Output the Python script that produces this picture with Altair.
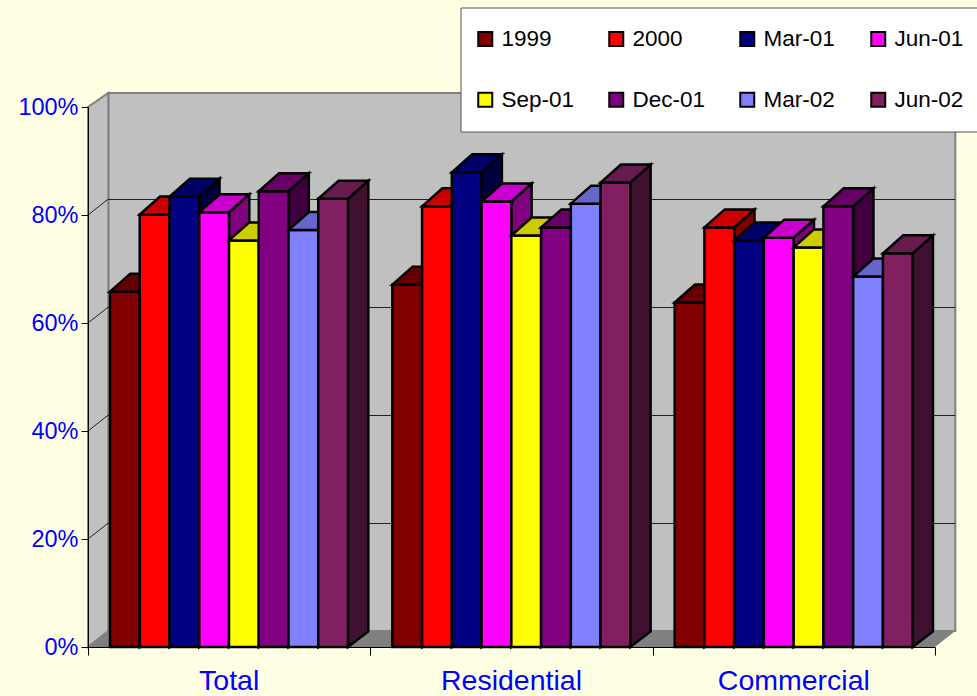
import altair as alt
import pandas as pd

FONT = "Liberation Sans"
BLUE = "#0000FF"
PAPER = "#FFFFE4"

categories = ["Total", "Residential", "Commercial"]
series = ["1999", "2000", "Mar-01", "Jun-01", "Sep-01", "Dec-01", "Mar-02", "Jun-02"]
total = [65.8, 80.1, 83.4, 80.5, 75.3, 84.4, 77.2, 83.0]
residential = [67.1, 81.6, 87.9, 82.5, 76.2, 77.7, 82.1, 86.0]
commercial = [63.8, 77.7, 75.3, 75.8, 74.0, 81.6, 68.6, 72.9]
front_colours = ["#800000", "#FF0000", "#000080", "#FF00FF", "#FFFF00", "#800080", "#8080FF", "#802060"]
top_colours = ["#660000", "#CC0000", "#000066", "#CC00CC", "#CCCC00", "#660066", "#6666CC", "#661A4D"]
side_colours = ["#400000", "#800000", "#000040", "#800080", "#808000", "#400040", "#404080", "#401030"]

PLOT_W, PLOT_H = 847, 540
PX_X = PLOT_W / len(categories)   # pixels per category unit
PX_Y = PLOT_H / 100               # pixels per percentage point

# Oblique projection of the box, in data units
DX = 20.3 / PX_X
DY_WALL = 16 / PX_Y
DY_GRID = 15.5 / PX_Y
WALL_TOP = 100 + 14 / PX_Y
BAR_DX = 20.3 / PX_X
BAR_DY_TOP = 18 / PX_Y
BAR_DY_BASE = 15.5 / PX_Y
BAR_W = 29.75 / PX_X
GROUP_GAP = 22 / PX_X

x_scale = alt.Scale(domain=[0, len(categories)], nice=False, zero=False)
y_scale = alt.Scale(domain=[0, 100], nice=False, zero=False)
x_axis = alt.Axis(values=list(range(len(categories) + 1)), labels=False, title=None, grid=False,
                  tickSize=8, tickColor="black", domainColor="black", zindex=1)
y_axis = alt.Axis(values=[0, 20, 40, 60, 80, 100], title=None, grid=False, tickSize=7,
                  labelExpr="datum.value + '%'", labelFont=FONT, labelFontSize=23.5,
                  labelColor=BLUE, labelPadding=3, tickColor="black", domainColor="black", zindex=1)

X = alt.X("x:Q", scale=x_scale, axis=x_axis)
Y = alt.Y("y:Q", scale=y_scale, axis=y_axis, stack=None)
Y2 = alt.Y2("y2:Q")


def quad(face, key, x0, x1, low0, high0, low1, high1):
    """A single-span area face: (low, high) at both ends of x0..x1."""
    return [
        {"face": face, "key": key, "x": x0, "y": high0, "y2": low0},
        {"face": face, "key": key, "x": x1, "y": high1, "y2": low1},
    ]


def slanted(face, key, x0, width, level, dx, dy):
    """Horizontal parallelogram running back from the front edge x0..x0+width at a level."""
    return [
        {"face": face, "key": key, "x": x0, "y": level, "y2": level},
        {"face": face, "key": key, "x": x0 + dx, "y": level + dy, "y2": level},
        {"face": face, "key": key, "x": x0 + width, "y": level + dy, "y2": level},
        {"face": face, "key": key, "x": x0 + width + dx, "y": level + dy, "y2": level + dy},
    ]


# Chart box: back wall, left wall and floor
n = len(categories)
walls = pd.DataFrame(
    quad("back", "back", DX, n + DX, DY_WALL, WALL_TOP, DY_WALL, WALL_TOP)
    + quad("left", "left", 0, DX, 0, 100, DY_WALL, WALL_TOP)
)
floor = pd.DataFrame(slanted("floor", "floor", 0, n, 0, DX, DY_WALL))

wall_layer = alt.Chart(walls).mark_area(orient="vertical", stroke="#808080", strokeWidth=2, fill="#C0C0C0").encode(
    x=X, y=Y, y2=Y2, detail="face:N"
)
floor_layer = alt.Chart(floor).mark_area(orient="vertical", fill="#808080").encode(
    x=X, y=Y, y2=Y2, detail="face:N"
)

# Gridlines across the back wall and their diagonals on the left wall
levels = [20, 40, 60, 80]
grid = pd.DataFrame(
    [{"x": DX, "x2": n + DX, "y": v + DY_GRID, "y2": v + DY_GRID} for v in levels]
    + [{"x": 0, "x2": DX, "y": v, "y2": v + DY_WALL} for v in levels]
)
grid_layer = alt.Chart(grid).mark_rule(color="#222222", strokeWidth=1).encode(
    x=X, x2=alt.X2("x2:Q"), y=Y, y2=Y2
)

# Bars are painted left to right, each as side, front, top
rows = []
for c, values in enumerate([total, residential, commercial]):
    for s, (name, v) in enumerate(zip(series, values)):
        x0 = c + GROUP_GAP + s * BAR_W
        x1 = x0 + BAR_W
        rows += quad(f"{c}-{s}-side", f"{name} side", x1, x1 + BAR_DX, 0, v, BAR_DY_BASE, v + BAR_DY_TOP)
        rows += quad(f"{c}-{s}-front", name, x0, x1, 0, v, 0, v)
        rows += slanted(f"{c}-{s}-top", f"{name} top", x0, BAR_W, v, BAR_DX, BAR_DY_TOP)
bars = pd.DataFrame(rows)

colour_domain = series + [f"{s} top" for s in series] + [f"{s} side" for s in series]
colour_range = front_colours + top_colours + side_colours

# The legend fills column by column, so entries are listed to read across in rows
legend_order = [name for pair in zip(series[:4], series[4:]) for name in pair]
legend = alt.Legend(
    values=legend_order, title=None, orient="none", legendX=372.5, legendY=-99.5, columns=4,
    gridAlign="all", symbolType="square", symbolSize=196, symbolStrokeColor="black", symbolStrokeWidth=2,
    symbolOffset=-6.5, labelFont=FONT, labelFontSize=22.5, labelColor="black", labelOffset=5, labelLimit=200,
    fillColor="white", strokeColor="#555555", padding=20, columnPadding=30, rowPadding=38,
)

bar_layer = alt.Chart(bars).mark_area(
    orient="vertical", stroke="black", strokeWidth=2.5, strokeJoin="miter", opacity=1
).encode(
    x=X, y=Y, y2=Y2, detail="face:N",
    color=alt.Color("key:N", scale=alt.Scale(domain=colour_domain, range=colour_range), legend=legend),
)

labels = pd.DataFrame({"x": [i + 0.5 for i in range(n)], "label": categories})
label_layer = alt.Chart(labels).mark_text(
    font=FONT, fontSize=28.5, color=BLUE, align="center", baseline="middle"
).encode(x=X, y=alt.value(PLOT_H + 33.5), text="label:N")

chart = (
    alt.layer(wall_layer, floor_layer, grid_layer, bar_layer, label_layer)
    .properties(
        width=PLOT_W, height=PLOT_H, background=PAPER,
        autosize=alt.AutoSizeParams(type="none"),
        padding={"left": 88, "top": 107, "right": 42, "bottom": 49},
    )
    .configure_view(stroke=None)
)

chart.save("out.html", embed_options={"renderer": "svg", "actions": False})
